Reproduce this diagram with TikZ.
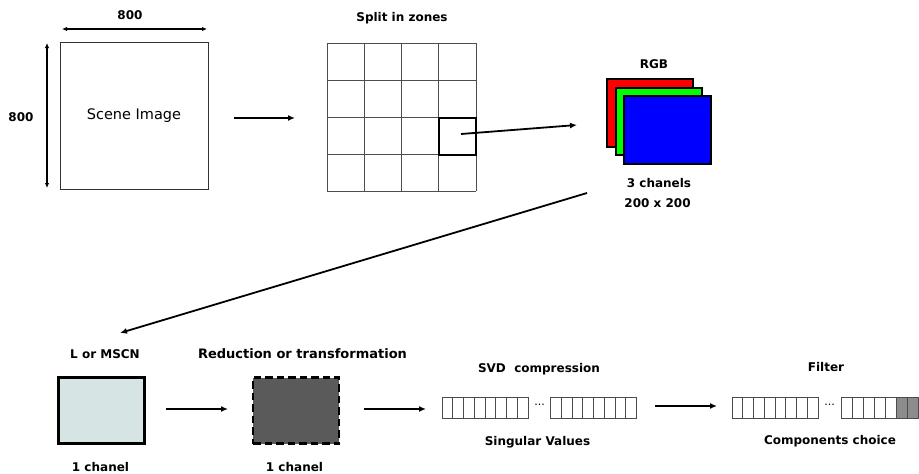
\documentclass[tikz,border=0pt]{standalone}
\usepackage{fontspec}
\setmainfont{DejaVu Sans}
\usetikzlibrary{arrows.meta}
\begin{document}
\begin{tikzpicture}[x=1pt,y=-1pt,
  lbl/.style={font=\fontsize{12}{14}\selectfont\bfseries, inner sep=0pt},
  arr/.style={line width=1.8pt,-{Latex[length=7pt,width=6pt]}},
  darr/.style={line width=1.2pt,{Latex[length=5pt,width=4.5pt]}-{Latex[length=5pt,width=4.5pt]}},
  cell/.style={draw=black!70,line width=0.6pt},
  chan/.style={draw=black,line width=1.8pt}]
\useasboundingbox (0,0) rectangle (919,474);
% Scene image
\node[draw=black!80,line width=0.7pt,minimum width=148pt,minimum height=147pt,inner sep=0pt,
  font=\fontsize{14.5}{16}\selectfont] (scene) at (134,115.5) {Scene Image};
\node[lbl] (w800) at (130,15) {800};
\node[lbl] (h800) at (21,117) {800};
\coordinate (ta) at (62,29); \coordinate (tb) at (207,29);
\draw[darr] (ta) -- (tb);
\coordinate (va) at (47,43); \coordinate (vb) at (47,188);
\draw[darr] (va) -- (vb);
\coordinate (a1s) at (234,118); \coordinate (a1e) at (295,118);
\draw[arr] (a1s) -- (a1e);
% Grid
\node[lbl] (split) at (402,18) {Split in zones};
\node[inner sep=0pt,minimum width=149pt,minimum height=148pt] (grid) at (401.5,117) {};
\foreach \i in {0,...,4}{
  \draw[cell] (327+\i*37.25,43) -- (327+\i*37.25,191);
  \draw[cell] (327,43+\i*37) -- (476,43+\i*37);
}
\node[draw=black,line width=1.8pt,minimum width=37pt,minimum height=37pt,inner sep=0pt] (zone) at (457.5,136.5) {};
\coordinate (a2s) at (461,134); \coordinate (a2e) at (577,125);
\draw[arr] (a2s) -- (a2e);
% RGB
\node[lbl] (rgb) at (654,64) {RGB};
\node[chan,fill=red,minimum width=86pt,minimum height=68pt,inner sep=0pt] (red) at (650,113) {};
\node[chan,fill=green,minimum width=86pt,minimum height=67pt,inner sep=0pt] (green) at (659,121.5) {};
\node[chan,fill=blue,minimum width=87pt,minimum height=68pt,inner sep=0pt] (blue) at (667.5,130) {};
\node[lbl] (ch3) at (659,183) {3 chanels};
\node[lbl] (sz) at (657.5,203) {200 x 200};
\coordinate (a3s) at (587,193); \coordinate (a3e) at (120,333);
\draw[arr] (a3s) -- (a3e);
% Bottom row
\node[lbl] (lm) at (105,354) {L or MSCN};
\node[draw=black,line width=2.2pt,fill={rgb,255:red,215;green,228;blue,228},minimum width=86pt,minimum height=66pt,inner sep=0pt] (lbox) at (101.5,410.5) {};
\node[lbl] (c1) at (100.5,467) {1 chanel};
\coordinate (a4s) at (166,409); \coordinate (a4e) at (228,409);
\draw[arr] (a4s) -- (a4e);
\node[lbl,font=\fontsize{13}{15}\selectfont\bfseries] (red2) at (302.5,354) {Reduction or transformation};
\node[draw=black,line width=2.2pt,dash pattern=on 7.5pt off 4pt,fill={rgb,255:red,90;green,90;blue,90},minimum width=86pt,minimum height=66pt,inner sep=0pt] (dbox) at (296,410.5) {};
\node[lbl] (c2) at (294.5,467) {1 chanel};
\coordinate (a5s) at (364,409); \coordinate (a5e) at (426,409);
\draw[arr] (a5s) -- (a5e);
% SVD
\node[lbl] (svd) at (539,369) {SVD\ \ compression};
\foreach \i in {0,...,7}{
  \draw[cell] (442+\i*10.75,397) rectangle ++(10.75,21);
  \draw[cell] (550.5+\i*10.75,397) rectangle ++(10.75,21);
}
\node[inner sep=0pt,font=\fontsize{11}{12}\selectfont] (dots1) at (539.5,405) {...};
\node[lbl] (sv) at (537.5,442) {Singular Values};
\coordinate (a6s) at (655,406); \coordinate (a6e) at (717,406);
\draw[arr] (a6s) -- (a6e);
% Filter
\node[lbl] (filt) at (826,367) {Filter};
\foreach \i in {0,...,7}{
  \draw[cell] (732+\i*10.75,397) rectangle ++(10.75,21);
}
\foreach \i in {0,...,4}{
  \draw[cell] (841+\i*11,397) rectangle ++(11,21);
}
\foreach \i in {5,6}{
  \draw[cell,fill=black!45] (841+\i*11,397) rectangle ++(11,21);
}
\node[inner sep=0pt,font=\fontsize{11}{12}\selectfont] (dots2) at (829.5,405) {...};
\node[lbl] (cc) at (830,441) {Components choice};
\end{tikzpicture}
\end{document}
